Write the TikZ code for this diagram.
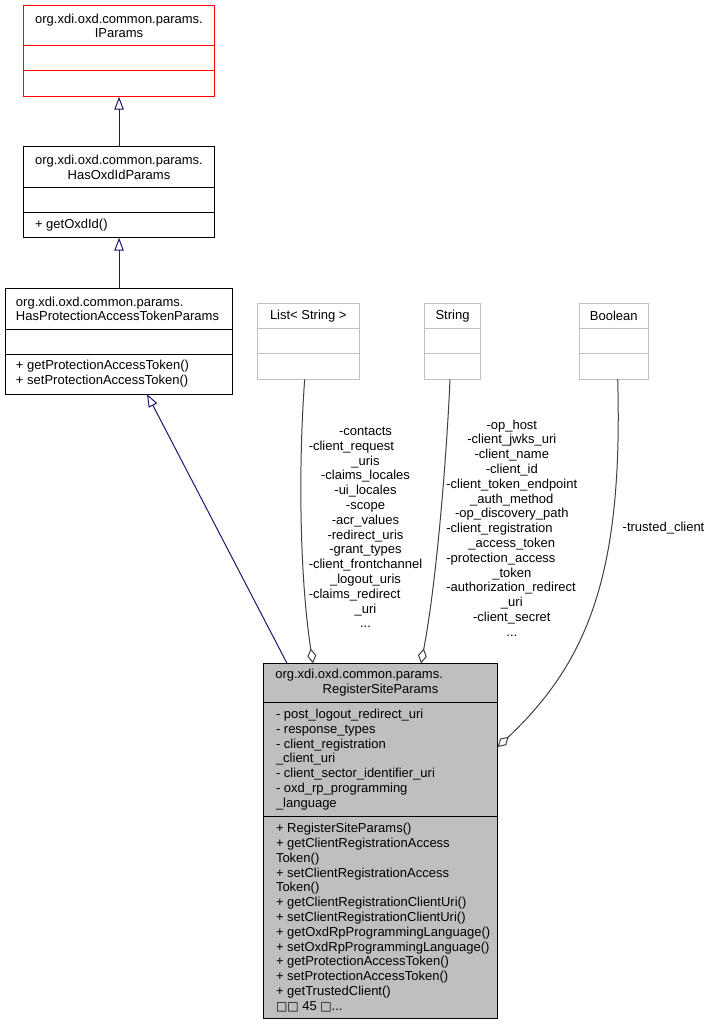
\documentclass[tikz,border=0pt]{standalone}
\usepackage{fontspec}
\usepackage{calc}
\setmainfont{Liberation Sans}
\newfontfamily\dvfont{DejaVu Sans}
\usetikzlibrary{arrows.meta}
\definecolor{navyline}{HTML}{191970}
\definecolor{aggline}{HTML}{404040}
\definecolor{lgray}{HTML}{BFBFBF}
\definecolor{boxred}{HTML}{FF0000}
\newcommand\Lw[2]{\makebox[\widthof{#1}][l]{#2}}
\begin{document}
\begin{tikzpicture}[x=1pt,y=-1pt,
  font=\fontsize{13}{14.8}\selectfont,
  line width=1pt,
  cls/.style={draw, rectangle, anchor=north west, inner sep=0pt, outer sep=0pt},
  txt/.style={inner sep=0pt, outer sep=0pt},
  gen/.style={navyline, -{Triangle[open, length=13pt, width=9.5pt, fill=white]}},
  aggr/.style={aggline, -{Diamond[open, length=15pt, width=9pt, fill=white]}},
  divider/.style={line width=1pt}
]
\useasboundingbox (0,0) rectangle (711,1024);

% ---------- IParams ----------
\node[cls, draw=boxred, minimum width=190.5pt, minimum height=91pt] (ip) at (23.8,5.7) {};
\draw[boxred] (23.8,46) -- (214.3,46);
\draw[boxred] (23.8,71) -- (214.3,71);
\node[txt, align=center] (iptitle) at (119,25.8) {org.xdi.oxd.common.params.\\IParams};

% ---------- HasOxdIdParams ----------
\node[cls, minimum width=190.5pt, minimum height=90.7pt] (hox) at (23.8,147) {};
\draw (23.8,187.3) -- (214.3,187.3);
\draw (23.8,212.7) -- (214.3,212.7);
\node[txt, align=center] (hoxtitle) at (119,167.2) {org.xdi.oxd.common.params.\\HasOxdIdParams};
\node[txt, anchor=west] (hoxm) at (35,225.2) {+ getOxdId()};

% ---------- HasProtectionAccessTokenParams ----------
\node[cls, minimum width=227.7pt, minimum height=105.3pt] (hpat) at (5,288.7) {};
\draw (5,329) -- (232.7,329);
\draw (5,354) -- (232.7,354);
\node[txt, anchor=west, align=left] (hpattitle) at (16,308.8) {org.xdi.oxd.common.params.\\HasProtectionAccessTokenParams};
\node[txt, anchor=west, align=left] (hpatm) at (16,374) {+ getProtectionAccessToken()\\+ setProtectionAccessToken()};

% ---------- List< String > ----------
\node[cls, draw=lgray, minimum width=102pt, minimum height=76pt] (lst) at (257.3,303.3) {};
\draw[lgray] (257.3,328.3) -- (359.3,328.3);
\draw[lgray] (257.3,353.7) -- (359.3,353.7);
\node[txt] (lsttitle) at (308.3,315.8) {List< String >};

% ---------- String ----------
\node[cls, draw=lgray, minimum width=56.4pt, minimum height=76pt] (str) at (424.3,303.3) {};
\draw[lgray] (424.3,328.3) -- (480.7,328.3);
\draw[lgray] (424.3,353.7) -- (480.7,353.7);
\node[txt] (strtitle) at (452.5,315.8) {String};

% ---------- Boolean ----------
\node[cls, draw=lgray, minimum width=69.7pt, minimum height=76pt] (bool) at (579,303.3) {};
\draw[lgray] (579,328.3) -- (648.7,328.3);
\draw[lgray] (579,353.7) -- (648.7,353.7);
\node[txt] (booltitle) at (613.8,315.8) {Boolean};

% ---------- RegisterSiteParams ----------
\node[cls, fill=lgray, minimum width=234.4pt, minimum height=355pt] (rsp) at (263.3,663.3) {};
\draw (263.3,702.7) -- (497.7,702.7);
\draw (263.3,816.7) -- (497.7,816.7);
\node[txt, text width=210.4pt, align=center] (rsptitle) at (380.5,683)
  {\makebox[\linewidth][l]{org.xdi.oxd.common.params.}\\RegisterSiteParams};
\node[txt, anchor=west, align=left] (rspattr) at (276,759.5)
  {- post\_logout\_redirect\_uri\\
   - response\_types\\
   - client\_registration\\
   \_client\_uri\\
   - client\_sector\_identifier\_uri\\
   - oxd\_rp\_programming\\
   \_language};
\node[txt, anchor=west, align=left] (rspmeth) at (276,917.5)
  {+ RegisterSiteParams()\\
   + getClientRegistrationAccess\\
   Token()\\
   + setClientRegistrationAccess\\
   Token()\\
   + getClientRegistrationClientUri()\\
   + setClientRegistrationClientUri()\\
   + getOxdRpProgrammingLanguage()\\
   + setOxdRpProgrammingLanguage()\\
   + getProtectionAccessToken()\\
   + setProtectionAccessToken()\\
   + getTrustedClient()\\
   {\dvfont\fontsize{12}{14.8}\selectfont □□} 45 {\dvfont\fontsize{12}{14.8}\selectfont □}...};

% ---------- generalization connectors ----------
\draw[gen] (hox.north) -- (ip.south);
\draw[gen] (hox.south |- hpat.north) -- (hox.south);
\draw[gen] ([xshift=23.7pt]rsp.north west) -- ([xshift=142pt]hpat.south west);

% ---------- aggregation connectors ----------
\draw[aggr] ([xshift=47.4pt]lst.south west) .. controls (298,470) and (300,580) .. ([xshift=49.7pt]rsp.north west);
\draw[aggr] ([xshift=25.7pt]str.south west) .. controls (447,450) and (437,580) .. ([xshift=157.7pt]rsp.north west);
\draw[aggr] ([xshift=38.7pt]bool.south west) .. controls (623,570) and (590,660) .. ([yshift=-83.7pt]rsp.north east);

% ---------- labels ----------
\node[txt, align=center] (lstlabel) at (365.5,527.5)
  {-contacts\\
   \Lw{-client\_frontchannel}{-client\_request}\\
   \_uris\\
   -claims\_locales\\
   -ui\_locales\\
   -scope\\
   -acr\_values\\
   -redirect\_uris\\
   -grant\_types\\
   -client\_frontchannel\\
   \_logout\_uris\\
   \Lw{-client\_frontchannel}{-claims\_redirect}\\
   \_uri\\
   ...};
\node[txt, align=center] (strlabel) at (511.8,528)
  {-op\_host\\
   -client\_jwks\_uri\\
   -client\_name\\
   -client\_id\\
   -client\_token\_endpoint\\
   \_auth\_method\\
   -op\_discovery\_path\\
   \Lw{-client\_token\_endpoint}{-client\_registration}\\
   \_access\_token\\
   \Lw{-client\_token\_endpoint}{-protection\_access}\\
   \_token\\
   \Lw{-client\_token\_endpoint}{-authorization\_redirect}\\
   \_uri\\
   -client\_secret\\
   ...};
\node[txt, anchor=west] (boollabel) at (622.7,527.7) {-trusted\_client};
\end{tikzpicture}
\end{document}
